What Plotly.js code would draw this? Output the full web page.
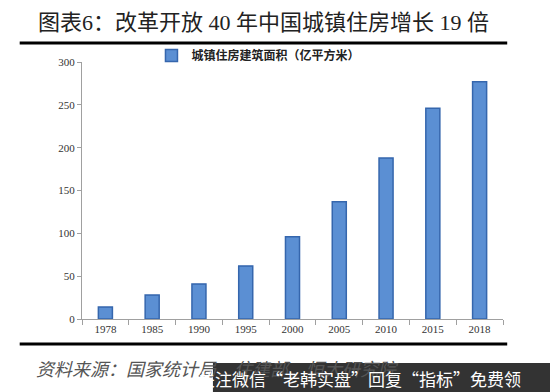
<!DOCTYPE html>
<html><head><meta charset="utf-8">
<script src="https://cdn.plot.ly/plotly-3.0.1.min.js"></script>
<style>html,body{margin:0;padding:0;background:#fff}#c{width:550px;height:392px}</style>
</head><body><div id="c"></div>
<script>
var years = ['1978','1985','1990','1995','2000','2005','2010','2015','2018'];
var area = [14, 28, 41, 62, 96, 137, 188, 246, 277];
var yTicks = [0, 50, 100, 150, 200, 250, 300];
var seriesName = '城镇住房建筑面积（亿平方米）';
var titleText = '图表6：改革开放 40 年中国城镇住房增长 19 倍';
var sourceText = '资料来源：国家统计局、住建部、恒大研究院';
var watermark = '关注微信“老韩实盘”回复“指标”免费领';

var serif = 'Liberation Serif, Noto Sans CJK SC, serif';
var trace = {
  type: 'bar', x: years, y: area, name: seriesName, width: 0.3,
  marker: {color: '#5b8fd3', line: {color: '#3566ad', width: 1.5}}
};
var layout = {
  width: 550, height: 392,
  margin: {l: 82, r: 47, t: 62, b: 73},
  paper_bgcolor: '#fff', plot_bgcolor: '#fff',
  showlegend: true,
  legend: {x: 0.165, xanchor: 'left', y: 1.025, yanchor: 'middle', orientation: 'h',
    font: {family: serif, size: 12, color: '#222', weight: 'bold'}, itemwidth: 30, bgcolor: 'rgba(0,0,0,0)'},
  xaxis: {type: 'category', showline: true, linecolor: '#a0a0a0', linewidth: 1,
    ticks: 'outside', tickson: 'boundaries', ticklen: 5, tickcolor: '#a0a0a0',
    tickfont: {family: serif, size: 11, color: '#333'}, showgrid: false, zeroline: false},
  yaxis: {range: [0, 300], tickvals: yTicks, showline: true, linecolor: '#a0a0a0', linewidth: 1,
    ticks: 'outside', ticklen: 4, tickcolor: '#a0a0a0', showgrid: false, zeroline: false,
    tickfont: {family: serif, size: 11, color: '#333'}},
  shapes: [
    {type: 'line', xref: 'paper', yref: 'paper', x0: -0.148, x1: 1.01, y0: 1.074, y1: 1.074, line: {color: '#000', width: 3}},
    {type: 'line', xref: 'paper', yref: 'paper', x0: -0.148, x1: 1.01, y0: -0.097, y1: -0.097, line: {color: '#000', width: 3}},
    {type: 'rect', xref: 'paper', yref: 'paper', x0: 0.311, x1: 1.12, y0: -0.171, y1: -0.3, fillcolor: '#333333', line: {width: 0}, layer: 'above'}
  ],
  annotations: [
    {text: titleText, xref: 'paper', yref: 'paper', x: 0.432, y: 1.152, xanchor: 'center', yanchor: 'middle',
     showarrow: false, font: {family: serif, size: 22, color: '#222'}},
    {text: '<i>' + sourceText + '</i>', xref: 'paper', yref: 'paper', x: -0.113, y: -0.19, xanchor: 'left', yanchor: 'middle',
     showarrow: false, font: {family: 'Noto Sans CJK SC, sans-serif', size: 18, color: '#555'}},
    {text: watermark, xref: 'paper', yref: 'paper', x: 0.66, y: -0.232, xanchor: 'center', yanchor: 'middle',
     showarrow: false, font: {family: 'Noto Sans CJK SC, sans-serif', size: 17, color: '#fff'}}
  ]
};
Plotly.newPlot('c', [trace], layout, {displayModeBar: false, staticPlot: true});
</script></body></html>
